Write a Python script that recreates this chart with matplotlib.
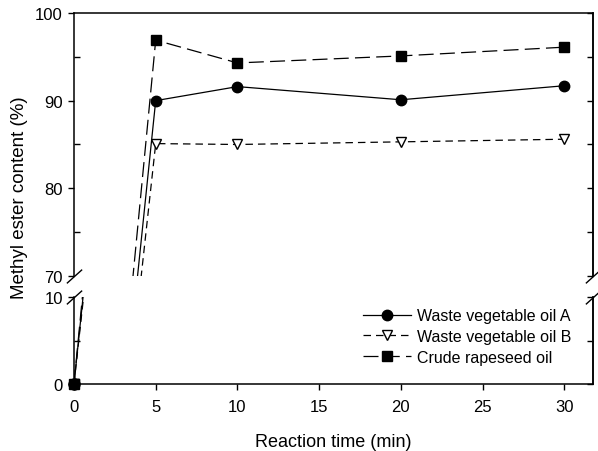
import matplotlib
matplotlib.use("Agg")
import matplotlib.pyplot as plt
from matplotlib.ticker import MultipleLocator

plt.rcParams["font.family"] = ["Liberation Sans", "DejaVu Sans"]

# reaction time (min) and methyl ester content (%)
time_min = [0, 5, 10, 20, 30]
oil_a = [0, 90.0, 91.6, 90.1, 91.7]
oil_b = [0, 85.1, 85.0, 85.3, 85.6]
rapeseed = [0, 96.9, 94.3, 95.1, 96.1]

series_labels = ["Waste vegetable oil A", "Waste vegetable oil B", "Crude rapeseed oil"]
x_ticks = [0, 5, 10, 15, 20, 25, 30]
top_ticks = [70, 80, 90, 100]
bot_ticks = [0, 10]

fig = plt.figure(figsize=(5.98, 4.52), dpi=100)
ax_top = fig.add_axes([0.1237, 0.3872, 0.8679, 0.5819])
ax_bot = fig.add_axes([0.1237, 0.1482, 0.8679, 0.1925], sharex=ax_top)

styles = [
    dict(ls="-", marker="o", ms=7.5, mfc="black", mec="black"),
    dict(ls=(0, (6, 4)), marker="v", ms=7.5, mfc="white", mec="black", mew=1.0),
    dict(ls=(0, (12, 5)), marker="s", ms=6.5, mfc="black", mec="black"),
]
series = [oil_a, oil_b, rapeseed]

# same data in both panels, each clipped to its own y range
handles = []
for ax in (ax_top, ax_bot):
    handles = []
    for values, st in zip(series, styles):
        h, = ax.plot(time_min, values, color="black", lw=0.9, zorder=3, **st)
        handles.append(h)

ax_top.set_xlim(0, 31.75)
ax_top.set_ylim(70, 100)
ax_bot.set_ylim(0, 10)

# origin marker sits on the corner, keep it unclipped
ax_bot.plot([0], [0], marker="s", ms=7, color="black", clip_on=False, zorder=4)
ax_bot.plot([0], [0], marker="o", ms=8, color="black", clip_on=False, zorder=4)

for ax in (ax_top, ax_bot):
    for s in ax.spines.values():
        s.set_linewidth(1.1)
ax_top.spines["bottom"].set_visible(False)
ax_bot.spines["top"].set_visible(False)

ax_top.set_yticks(top_ticks)
ax_top.yaxis.set_minor_locator(MultipleLocator(5))
ax_bot.set_yticks(bot_ticks)
ax_bot.yaxis.set_minor_locator(MultipleLocator(5))

for ax in (ax_top, ax_bot):
    ax.tick_params(axis="y", which="major", direction="out", length=4, width=1, pad=4, labelsize=12)
    ax.tick_params(axis="y", which="minor", direction="in", length=4, width=1)
    sec = ax.secondary_yaxis("right")
    sec.set_yticks(ax.get_yticks())
    sec.yaxis.set_minor_locator(MultipleLocator(5))
    sec.tick_params(which="both", direction="in", length=4, width=1, labelright=False)
    sec.spines["right"].set_linewidth(1.1)

ax_top.tick_params(axis="x", which="both", bottom=False, labelbottom=False)
ax_bot.set_xticks(x_ticks)
ax_bot.tick_params(axis="x", direction="out", length=4, width=1, pad=6.5, labelsize=12)

# break marks on both spines
kw = dict(marker=[(-1, -0.9), (1, 0.9)], markersize=11, linestyle="none",
          color="black", mec="black", mew=1, clip_on=False)
ax_top.plot([0, 1], [0, 0], transform=ax_top.transAxes, **kw)
ax_bot.plot([0, 1], [1, 1], transform=ax_bot.transAxes, **kw)

ax_bot.set_xlabel("Reaction time (min)", fontsize=13, labelpad=14)
fig.text(0.032, 0.562, "Methyl ester content (%)", rotation=90, fontsize=13.5,
         ha="center", va="center")

fig.legend(handles, series_labels, loc="center left", bbox_to_anchor=(0.607, 0.2533),
           frameon=False, fontsize=11.5, handlelength=3.0, handletextpad=0.4,
           labelspacing=0.35, borderpad=0, borderaxespad=0)

fig.savefig("out.png", dpi=100)
